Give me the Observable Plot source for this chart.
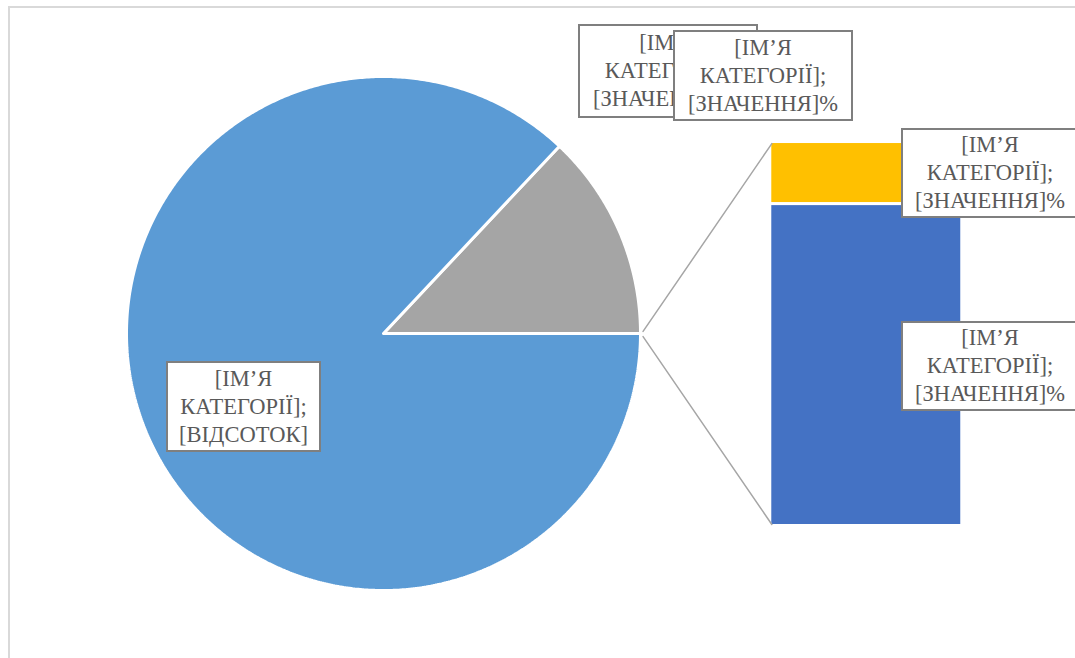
<!DOCTYPE html>
<html><head><meta charset="utf-8">
<script src="https://cdn.jsdelivr.net/npm/d3@7"></script>
<script src="https://cdn.jsdelivr.net/npm/@observablehq/plot@0.6"></script>
<style>
body{margin:0;background:#fff;}
#wrap{position:relative;width:1075px;height:658px;overflow:hidden;background:#fff;}
#wrap svg{position:absolute;left:0;top:0;}
.frame{position:absolute;left:8px;top:6px;width:1200px;height:800px;border:2px solid #d9d9d9;box-sizing:border-box;pointer-events:none;}
.lbl{position:absolute;background:#fff;border:2px solid #7f7f7f;box-sizing:border-box;font-family:"Times New Roman",Times,"Liberation Serif","Noto Serif","DejaVu Serif",FreeSerif,Tinos,serif;font-size:22.5px;line-height:28px;color:#595959;text-align:center;display:flex;flex-direction:column;justify-content:center;white-space:nowrap;}
</style></head>
<body><div id="wrap"></div>
<script>
// ---- data ----
const pieCategories = ["Інше", "Категорія 1"];   // pie slices, counter-clockwise from 3 o'clock
const pieMainValue = 87;                          // big blue slice (%)
const pieColors = ["#a5a5a5", "#5b9bd5"];
const barCategories = ["Категорія 2", "Категорія 3"]; // stacked bottom -> top
const barValues = [10.9, 2.1];
const barColors = ["#4472c4", "#ffc000"];
const pieLabelLines = ["[ІМ’Я", "КАТЕГОРІЇ];", "[ВІДСОТОК]"];
const valueLabelLines = ["[ІМ’Я", "КАТЕГОРІЇ];", "[ЗНАЧЕННЯ]%"];

// ---- layout ----
const W = 1075, H = 658;
const cx = 383, cy = 333, r = 257;
const barX = [1.505, 2.252];     // bar extent in pie-radius units
const barY = [-0.749, 0.745];

// ---- derived geometry ----
const otherValue = d3.sum(barValues);
const pieValues = [otherValue, pieMainValue];
const total = d3.sum(pieValues);
const piePts = [];
let a0 = 0;
pieValues.forEach((v, k) => {
  const a1 = a0 + v / total * 2 * Math.PI;
  const n = Math.max(2, Math.ceil((a1 - a0) / (Math.PI / 360)));
  piePts.push({slice: pieCategories[k], x: 0, y: 0});
  for (let i = 0; i <= n; i++) {
    const a = a0 + (a1 - a0) * i / n;
    piePts.push({slice: pieCategories[k], x: Math.cos(a), y: Math.sin(a)});
  }
  piePts.push({slice: pieCategories[k], x: 0, y: 0});
  a0 = a1;
});

const barScale = d3.scaleLinear().domain([0, otherValue]).range(barY);
let acc = 0;
const barRects = barValues.map((v, i) => {
  const d = {cat: barCategories[i], x1: barX[0], x2: barX[1], y1: barScale(acc), y2: barScale(acc + v)};
  acc += v;
  return d;
});

const connectors = [
  {id: "top", x: 1.01, y: 0.008}, {id: "top", x: barX[0] + 0.006, y: barY[1] - 0.006},
  {id: "bot", x: 1.01, y: -0.012}, {id: "bot", x: barX[0] + 0.006, y: barY[0] + 0.006}
];

const chart = Plot.plot({
  width: W, height: H,
  margin: 0,
  x: {domain: [-1, 1], range: [cx - r, cx + r], axis: null},
  y: {domain: [-1, 1], range: [cy + r, cy - r], axis: null},
  color: {domain: [...pieCategories, ...barCategories], range: [...pieColors, ...barColors]},
  marks: [
    Plot.line(piePts, {x: "x", y: "y", z: "slice", fill: "slice", stroke: "white", strokeWidth: 3, strokeLinejoin: "miter"}),
    Plot.rect(barRects, {x1: "x1", x2: "x2", y1: "y1", y2: "y2", fill: "cat", stroke: "white", strokeWidth: 3}),
    Plot.line(connectors, {x: "x", y: "y", z: "id", stroke: "#a6a6a6", strokeWidth: 1.5})
  ]
});
const wrap = document.getElementById("wrap");
wrap.appendChild(chart);
const frame = document.createElement("div");
frame.className = "frame";
wrap.appendChild(frame);

// data labels (left, top, width, height)
const labels = [
  {lines: valueLabelLines, box: [578, 24, 180, 94]},
  {lines: valueLabelLines, box: [673, 30, 180, 91]},
  {lines: valueLabelLines, box: [901, 128, 178, 90]},
  {lines: valueLabelLines, box: [901, 321, 178, 90]},
  {lines: pieLabelLines, box: [166, 361, 155, 91]}
];
for (const L of labels) {
  const d = document.createElement("div");
  d.className = "lbl";
  const [l, t, w, h] = L.box;
  Object.assign(d.style, {left: l + "px", top: t + "px", width: w + "px", height: h + "px"});
  for (const line of L.lines) {
    const s = document.createElement("div");
    s.textContent = line;
    d.appendChild(s);
  }
  wrap.appendChild(d);
}
</script>
</body></html>
